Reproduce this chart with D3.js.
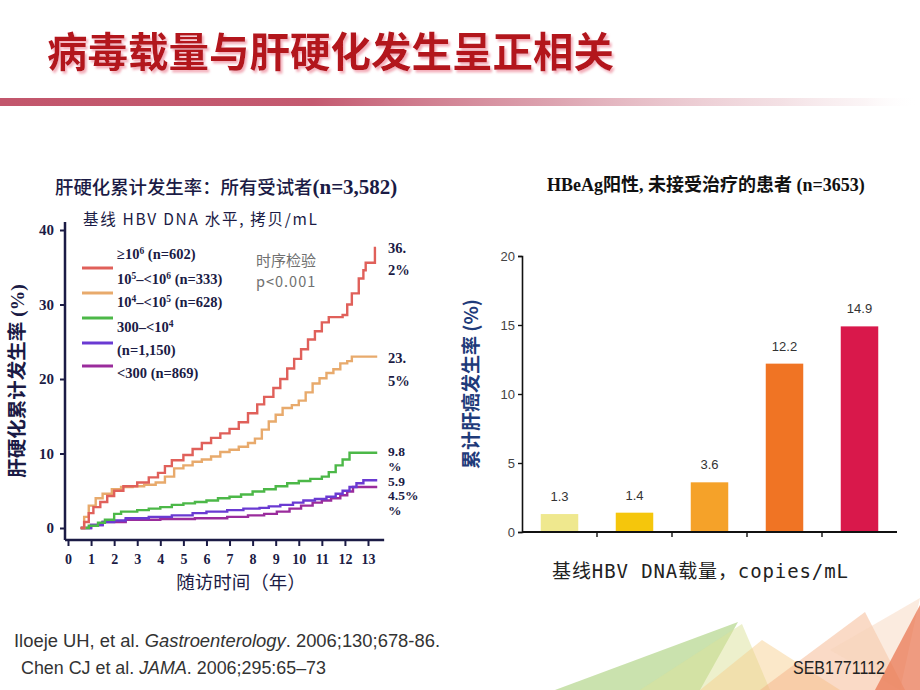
<!DOCTYPE html>
<html><head><meta charset="utf-8">
<script src="https://cdn.jsdelivr.net/npm/d3@7"></script>
<style>body{margin:0;background:#fff}svg{display:block}</style>
</head><body><svg id="c" width="920" height="690"></svg>
<script>
// ---------- DATA ----------
const slideTitle = "病毒载量与肝硬化发生呈正相关";
const leftTitleCJK = "肝硬化累计发生率：所有受试者";
const leftTitleLatin = "(n=3,582)";
const leftSubtitle = "基线 HBV DNA 水平, 拷贝/mL";
const leftYTitle = "肝硬化累计发生率 (%)";
const leftXTitle = "随访时间（年）";
const logRankLines = ["时序检验", "p<0.001"];
const yearTicks = [0,1,2,3,4,5,6,7,8,9,10,11,12,13];
const pctTicks = [0,10,20,30,40];

const kmNames = ["≥10^6", "10^5–<10^6", "10^4–<10^5", "300–<10^4", "<300"];
const kmColors = ["#E0605A", "#E8AA6C", "#4CB848", "#6A3AD2", "#9A2C9C"];
const legendRows = [["≥10","6"," (n=602)"],["10","5","–<10","6"," (n=333)"],["10","4","–<10","5"," (n=628)"],["300–<10","4",""],["(n=1,150)"],["<300 (n=869)"]];
const kmEndLabels = [["36.","2%"],["23.","5%"],["9.8","%"],["5.9","%"],["4.5%"]];

const kmHigh = [[0.55,0],[0.7,0.8],[0.9,2.0],[1.1,2.8],[1.4,3.5],[1.7,4.3],[2.0,5.0],[2.4,5.6],[3.0,6.1],[3.5,6.8],[3.9,7.4],[4.2,8.3],[4.5,9.1],[5.0,9.8],[5.4,10.6],[5.8,11.4],[6.2,12.1],[6.6,12.7],[7.0,13.3],[7.4,14.2],[7.8,15.4],[8.2,16.6],[8.5,17.6],[8.9,18.8],[9.2,20.0],[9.5,21.4],[9.8,22.7],[10.1,24.0],[10.4,25.3],[10.7,26.4],[11.0,27.6],[11.3,28.3],[11.9,28.6],[12.1,30.0],[12.3,31.5],[12.6,33.5],[12.8,34.6],[12.9,35.6],[13.3,37.6],[13.35,37.6]];
const kmMidHigh = [[0.55,0],[0.7,1.5],[0.9,3.0],[1.2,4.0],[1.5,4.6],[1.9,5.2],[2.3,5.5],[2.8,5.6],[3.3,5.8],[3.8,6.1],[4.2,6.9],[4.6,8.0],[5.0,8.4],[5.4,8.9],[5.8,9.2],[6.2,9.6],[6.6,10.2],[7.0,10.5],[7.4,10.9],[7.8,11.4],[8.1,12.0],[8.4,13.2],[8.7,14.3],[9.0,15.2],[9.3,16.1],[9.7,16.5],[10.0,17.1],[10.3,18.2],[10.6,19.4],[10.9,20.1],[11.2,20.8],[11.5,21.3],[11.8,22.1],[12.1,22.4],[12.3,23.0],[13.4,23.0]];
const kmMid = [[0.55,0],[0.9,0.3],[1.3,0.7],[1.6,1.1],[2.0,1.9],[2.3,2.2],[3.0,2.4],[3.5,2.6],[4.0,2.8],[4.5,3.1],[5.0,3.3],[5.5,3.5],[6.0,3.7],[6.5,4.0],[7.0,4.2],[7.5,4.5],[8.0,4.9],[8.5,5.2],[9.0,5.6],[9.5,6.0],[10.0,6.3],[10.5,6.6],[11.0,6.9],[11.3,7.5],[11.6,8.4],[11.9,9.2],[12.2,10.1],[13.4,10.1]];
const kmLowMid = [[0.55,0],[1.0,0.4],[1.5,0.8],[2.0,1.0],[2.5,1.3],[3.5,1.5],[4.5,1.7],[5.4,2.0],[6.0,2.2],[6.9,2.4],[7.6,2.6],[8.3,2.7],[8.7,2.9],[9.2,3.1],[9.75,3.4],[10.2,3.7],[10.7,3.9],[11.2,4.2],[11.6,4.6],[11.9,5.0],[12.2,5.5],[12.5,6.0],[12.8,6.4],[13.4,6.4]];
const kmLow = [[0.55,0],[1.0,0.4],[1.5,0.8],[2.5,1.1],[4.0,1.2],[5.5,1.3],[6.9,1.5],[7.8,1.7],[8.5,1.9],[9.05,2.2],[9.6,2.6],[10.1,3.0],[10.6,3.4],[11.0,3.7],[11.4,4.0],[11.8,4.4],[12.1,4.9],[12.35,5.5],[13.4,5.5]];
const kmData = [kmHigh, kmMidHigh, kmMid, kmLowMid, kmLow];

const rightTitle = "HBeAg阳性, 未接受治疗的患者 (n=3653)";
const rightYTitle = "累计肝癌发生率 (%)";
const rightXTitle = "基线HBV DNA载量，copies/mL";
const hccCategories = ["<300", "300–9,999", "10^4–99,999", "10^5–999,999", "≥10^6"];
const hccValues = [1.3, 1.4, 3.6, 12.2, 14.9];
const hccColors = ["#EFE88E", "#F5C60C", "#F5A229", "#F07424", "#D9184B"];
const hccTicks = [0, 5, 10, 15, 20];

const refs = [["Iloeje UH, et al. ", "Gastroenterology", ". 2006;130;678-86."], ["Chen CJ et al. ", "JAMA", ". 2006;295:65–73"]];
const slideCode = "SEB1771112";

// ---------- DRAW ----------
const svg = d3.select("#c");
const defs = svg.append("defs");
const NAVY = "#1B1B45";
const SERIF = "'Liberation Serif','Noto Sans CJK SC',serif";
const CJK = "'Noto Sans CJK SC',sans-serif";
const SANS = "'Liberation Sans',Arial,sans-serif";

// decorative shapes bottom right
const deco = svg.append("g");
[[[555,690],[738,622],[700,690],"#A6CF78",0.6],
 [[640,690],[742,624],[770,690],"#DCE29A",0.5],
 [[700,690],[762,640],[840,690],"#F6CC88",0.45],
 [[760,690],[865,612],[905,690],"#F4AC80",0.45],
 [[830,650],[920,598],[900,690],"#F7D2B8",0.45],
 [[875,690],[920,605],[920,690],"#E8704A",0.7]].forEach(p=>{
  deco.append("polygon").attr("points",p.slice(0,3).map(q=>q.join(",")).join(" ")).attr("fill",p[3]).attr("opacity",p[4]);
});

// title
const f = defs.append("filter").attr("id","sh").attr("x","-5%").attr("y","-20%").attr("width","110%").attr("height","150%");
f.append("feDropShadow").attr("dx",2).attr("dy",2.5).attr("stdDeviation",1.2).attr("flood-color","#F2A6B2").attr("flood-opacity",0.9);
svg.append("text").attr("x",47).attr("y",67).text(slideTitle)
  .attr("font-family",CJK).attr("font-weight",700).attr("font-size",40.5).attr("fill","#B3141E").attr("filter","url(#sh)");

const gr = defs.append("linearGradient").attr("id","bar").attr("x1",0).attr("x2",1);
[[0,"#C2566C",1],[0.34,"#C45A70",1],[0.6,"#D48C9C",0.8],[0.85,"#E8C2CA",0.5],[0.94,"#F2DCE0",0.3],[1,"#FFFFFF",0]]
  .forEach(([o,c,op])=>gr.append("stop").attr("offset",o).attr("stop-color",c).attr("stop-opacity",op));
svg.append("rect").attr("x",0).attr("y",98).attr("width",920).attr("height",8).attr("fill","url(#bar)");

// ---------- LEFT CHART ----------
const x = d3.scaleLinear().domain([0,13]).range([68,368]);
const y = d3.scaleLinear().domain([0,40]).range([528,230]);
const L = svg.append("g");

L.append("text").attr("x",55).attr("y",194).attr("fill",NAVY)
  .call(t=>{
    t.append("tspan").attr("font-family",CJK).attr("font-weight",500).attr("font-size",18.4).text(leftTitleCJK);
    t.append("tspan").attr("font-family",SERIF).attr("font-weight",700).attr("font-size",21).text(leftTitleLatin);
  });
L.append("text").attr("x",83).attr("y",225).attr("fill",NAVY).attr("font-family",CJK).attr("font-size",15.5)
  .attr("textLength",234).attr("lengthAdjust","spacing").text(leftSubtitle);

// axes
const axisY = 540;
L.append("line").attr("x1",65).attr("x2",65).attr("y1",222).attr("y2",axisY).attr("stroke",NAVY).attr("stroke-width",2.5);
L.append("line").attr("x1",65).attr("x2",x(13.7)).attr("y1",axisY).attr("y2",axisY).attr("stroke",NAVY).attr("stroke-width",2.5);
const ya = L.append("g").attr("transform","translate(65,0)").call(d3.axisLeft(y).tickValues(pctTicks).tickSize(5).tickPadding(6));
ya.select(".domain").remove();
ya.selectAll("line").attr("stroke",NAVY).attr("stroke-width",2);
ya.selectAll("text").attr("font-family",SERIF).attr("font-weight",700).attr("font-size",15).attr("fill",NAVY);
const xa = L.append("g").attr("transform",`translate(0,${axisY})`).call(d3.axisBottom(x).tickValues(yearTicks).tickSize(6).tickPadding(8));
xa.select(".domain").remove();
xa.selectAll("line").attr("stroke",NAVY).attr("stroke-width",2);
xa.selectAll("text").attr("font-family",SERIF).attr("font-weight",700).attr("font-size",14).attr("fill",NAVY);

L.append("text").attr("x",241).attr("y",589).attr("text-anchor","middle").attr("font-family",CJK).attr("font-size",18.5).attr("fill",NAVY).text(leftXTitle);
L.append("text").attr("transform","translate(17,381) rotate(-90)").attr("text-anchor","middle").attr("dominant-baseline","central")
  .attr("font-family",SERIF).attr("font-weight",700).attr("font-size",19.5).attr("fill",NAVY).text(leftYTitle);

// curves
const line = d3.line().x(d=>x(d[0])).y(d=>y(d[1])).curve(d3.curveStepAfter);
[4,3,2,1,0].forEach(i=>{
  L.append("path").attr("d",line(kmData[i])).attr("fill","none").attr("stroke",kmColors[i]).attr("stroke-width",2.4).attr("stroke-linejoin","miter");
});

// legend
const legLineY = [268,293,318,343,366];
kmColors.forEach((c,i)=>{
  L.append("line").attr("x1",82).attr("x2",113).attr("y1",legLineY[i]).attr("y2",legLineY[i]).attr("stroke",c).attr("stroke-width",3);
});
const legTextY = [259,284,307,332,355,378];
legendRows.forEach((parts,i)=>{
  const t = L.append("text").attr("x",117).attr("y",legTextY[i]).attr("font-family",SERIF).attr("font-weight",700).attr("font-size",14.5).attr("fill",NAVY);
  if (parts.length===1) { t.text(parts[0]); return; }
  parts.forEach((p,j)=>{
    const sup = j%2===1;
    t.append("tspan").attr("font-size",sup?9.5:14.5).attr("dy",sup?-5:(j>0?5:0)).text(p);
  });
});
L.append("text").attr("x",256).attr("y",266).attr("font-family",CJK).attr("font-size",15).attr("fill","#707070").text(logRankLines[0]);
L.append("text").attr("x",256).attr("y",287).attr("font-family",CJK).attr("font-size",14.5).attr("fill","#707070").attr("letter-spacing",1).text(logRankLines[1]);

// end labels (first line centred near the curve's final value, second line below)
const endDy = [0,1,-1,1,8.5];
const endGap = [22,23,14.5,29,0];
const endSize = [14.5,14.5,13.5,13.5,13.5];
kmEndLabels.forEach((lab,i)=>{
  const last = kmData[i][kmData[i].length-1];
  const cy = y(last[1]) + endDy[i];
  lab.forEach((s,j)=>{
    L.append("text").attr("x",388).attr("y",cy + j*endGap[i]).attr("dominant-baseline","central")
      .attr("font-family",SERIF).attr("font-weight",700).attr("font-size",endSize[i]).attr("fill",NAVY).text(s);
  });
});

// ---------- RIGHT CHART ----------
const R = svg.append("g");
const xb = d3.scaleBand().domain(hccCategories).range([522,897]).paddingInner(0.5).paddingOuter(0.25);
const yb = d3.scaleLinear().domain([0,20]).range([532,256]);

R.append("text").attr("x",547).attr("y",191).attr("font-family",SERIF).attr("font-weight",700).attr("font-size",18).attr("fill","#111").text(rightTitle);

R.selectAll("rect.b").data(hccValues).join("rect").attr("class","b")
  .attr("x",(d,i)=>xb(hccCategories[i])).attr("width",xb.bandwidth())
  .attr("y",d=>yb(d)).attr("height",d=>yb(0)-yb(d)).attr("fill",(d,i)=>hccColors[i]);
R.selectAll("text.v").data(hccValues).join("text").attr("class","v")
  .attr("x",(d,i)=>xb(hccCategories[i])+xb.bandwidth()/2).attr("y",d=>yb(d)-13)
  .attr("text-anchor","middle").attr("font-family",SANS).attr("font-size",13).attr("fill","#333").text(d=>d.toFixed(1));

const rya = R.append("g").attr("transform","translate(522,0)").call(d3.axisLeft(yb).tickValues(hccTicks).tickSize(4).tickPadding(3));
rya.select(".domain").attr("stroke","#111").attr("stroke-width",1.6);
rya.selectAll("line").attr("stroke","#111").attr("stroke-width",1.4);
rya.selectAll("text").attr("font-family",SANS).attr("font-size",13).attr("fill","#444");
R.append("line").attr("x1",522).attr("x2",897).attr("y1",yb(0)).attr("y2",yb(0)).attr("stroke","#111").attr("stroke-width",1.8);
R.selectAll("line.ct").data(hccCategories.slice(0,4)).join("line").attr("class","ct")
  .attr("x1",d=>xb(d)+xb.bandwidth()/2+xb.step()/2).attr("x2",d=>xb(d)+xb.bandwidth()/2+xb.step()/2)
  .attr("y1",yb(0)).attr("y2",yb(0)+5).attr("stroke","#111").attr("stroke-width",1.4);

R.append("text").attr("transform","translate(469,384) rotate(-90)").attr("text-anchor","middle").attr("dominant-baseline","central")
  .attr("font-family",CJK).attr("font-weight",600).attr("font-size",19).attr("fill","#1F3B7A").text(rightYTitle);
R.append("text").attr("x",552).attr("y",578).attr("font-family","'DejaVu Sans Mono','Noto Sans CJK SC',monospace").attr("font-size",19)
  .attr("fill","#222").attr("textLength",296).attr("lengthAdjust","spacing").text(rightXTitle);

// ---------- FOOTER ----------
const refX = [14,21], refY = [647,674], refW = [426,305];
refs.forEach((r,i)=>{
  const t = svg.append("text").attr("x",refX[i]).attr("y",refY[i]).attr("font-family",SANS).attr("font-size",17.5).attr("fill","#333")
    .attr("textLength",refW[i]).attr("lengthAdjust","spacingAndGlyphs");
  r.forEach((p,j)=>t.append("tspan").attr("font-style",j===1?"italic":"normal").text(p));
});
svg.append("text").attr("x",793).attr("y",674).attr("font-family",SANS).attr("font-size",17.5).attr("fill","#222")
  .attr("textLength",92).attr("lengthAdjust","spacingAndGlyphs").text(slideCode);
</script></body></html>
